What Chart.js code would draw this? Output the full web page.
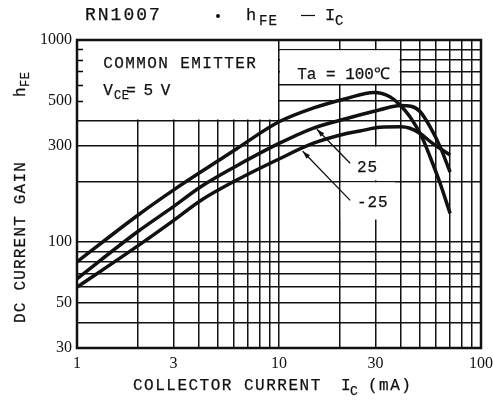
<!DOCTYPE html>
<html>
<head>
<meta charset="utf-8">
<script src="https://cdn.jsdelivr.net/npm/chart.js@4"></script>
<style>
body { margin: 0; background: #fff; }
</style>
</head>
<body>
<canvas id="hfe_chart" width="493" height="405"></canvas>
<script>
// RN1007 hFE - IC
const ic100 = [1, 2, 3, 5, 6.2, 10, 14.7, 21.6, 29.5, 35.4, 39.7, 44.5, 50.9, 56, 62.7, 70.3];
const hfe100 = [80, 136, 181, 253, 291, 394, 460, 514, 550, 524, 477, 417, 332, 264, 196, 139];

const ic25 = [1, 2, 3, 4.1, 6, 10, 14.7, 21.6, 31.6, 40, 45, 50, 56, 62.7, 70.3];
const hfe25 = [66, 113, 150, 188, 235, 308, 366, 409, 452, 474, 470, 442, 372, 297, 222];

const icM25 = [1, 2, 3, 4.1, 6, 10, 14.7, 21.6, 25.2, 31.6, 40, 44.5, 50, 57.6, 70.3];
const hfeM25 = [60, 96, 128, 161, 200, 258, 308, 345, 355, 370, 372, 366, 345, 308, 270];

const xTicks = [1, 2, 3, 4, 5, 6, 7, 8, 9, 10, 20, 30, 40, 50, 60, 70, 80, 90, 100];
const xLabels = [1, 3, 10, 30, 100];
const yTicks = [30, 40, 50, 60, 70, 80, 90, 100, 200, 300, 400, 500, 600, 700, 800, 900, 1000];
const yLabels = [30, 50, 100, 300, 500, 1000];

const mono = '"Liberation Mono", monospace';
const serif = '"Liberation Serif", serif';

function points(xs, ys) {
    return xs.map((x, i) => ({x: x, y: ys[i]}));
}

function write(ctx, s, x, y, size, spacing) {
    ctx.font = size + 'px ' + mono;
    ctx.letterSpacing = spacing + 'px';
    ctx.lineWidth = 0.25;
    ctx.fillText(s, x, y);
    ctx.strokeText(s, x, y);
    let w = ctx.measureText(s).width;
    ctx.letterSpacing = '0px';
    return x + w;
}

function arrow(ctx, x0, y0, x1, y1) {
    // line from label (x0,y0) to curve (x1,y1), filled head at the curve
    let a = Math.atan2(y1 - y0, x1 - x0);
    ctx.lineWidth = 1.3;
    ctx.beginPath();
    ctx.moveTo(x0, y0);
    ctx.lineTo(x1, y1);
    ctx.stroke();
    ctx.beginPath();
    ctx.moveTo(x1, y1);
    ctx.lineTo(x1 - 8 * Math.cos(a) + 2.5 * Math.sin(a), y1 - 8 * Math.sin(a) - 2.5 * Math.cos(a));
    ctx.lineTo(x1 - 8 * Math.cos(a) - 2.5 * Math.sin(a), y1 - 8 * Math.sin(a) + 2.5 * Math.cos(a));
    ctx.closePath();
    ctx.fill();
}

const sheetPlugin = {
    id: 'sheet',
    beforeDatasetsDraw(chart) {
        let ctx = chart.ctx;
        let px = v => chart.scales.x.getPixelForValue(v);
        let py = v => chart.scales.y.getPixelForValue(v);
        ctx.save();
        // white areas behind the notes
        ctx.fillStyle = '#fff';
        let blanks = [[1, 10, 400, 1000], [10, 40, 600, 900], [20, 40, 200, 300], [20, 38, 128, 200]];
        blanks.forEach(b => {
            ctx.fillRect(px(b[0]) + 1, py(b[3]) + 1, px(b[1]) - px(b[0]) - 2, py(b[2]) - py(b[3]) - 2);
        });
        // short ticks on the left edge inside the box
        ctx.strokeStyle = '#000';
        ctx.lineWidth = 1.5;
        [500, 600, 700, 800, 900].forEach(v => {
            ctx.beginPath();
            ctx.moveTo(px(1), Math.round(py(v)) + 0.5);
            ctx.lineTo(px(1) + 6, Math.round(py(v)) + 0.5);
            ctx.stroke();
        });
        ctx.restore();
    },
    afterDraw(chart) {
        let ctx = chart.ctx;
        let a = chart.chartArea;
        let px = v => chart.scales.x.getPixelForValue(v);
        let py = v => chart.scales.y.getPixelForValue(v);
        ctx.save();
        ctx.fillStyle = '#111';
        ctx.strokeStyle = '#111';
        ctx.textBaseline = 'alphabetic';

        // frame
        ctx.lineWidth = 2.5;
        ctx.strokeRect(a.left, a.top, a.right - a.left, a.bottom - a.top);

        // notes inside the plot
        write(ctx, 'COMMON EMITTER', px(1.35), py(726), 16, 1.4);
        let x = write(ctx, 'V', px(1.35), py(534), 16, 0);
        x = write(ctx, 'CE', x + 1, py(534) + 4, 12, 0.5);
        write(ctx, '= 5 V', x - 3, py(534), 16, -1);
        write(ctx, 'Ta = 100℃', px(12.3), py(641), 16, 0);
        write(ctx, '25', px(24.3), py(222), 16, 1);
        write(ctx, '-25', px(24.3), py(149), 16, 1);
        arrow(ctx, px(22.5), py(246), px(15.4), py(362));
        arrow(ctx, px(22.5), py(161), px(13.1), py(282));

        // title
        write(ctx, 'RN1007', 85, 20, 18, 2);
        ctx.beginPath();
        ctx.arc(218, 16, 2, 0, Math.PI * 2);
        ctx.fill();
        write(ctx, 'h', 246, 20, 17, 0);
        write(ctx, 'FE', 259, 25, 14, 1);
        ctx.lineWidth = 1.2;
        ctx.beginPath();
        ctx.moveTo(301, 15.5);
        ctx.lineTo(315, 15.5);
        ctx.stroke();
        write(ctx, 'I', 325, 20, 17, 0);
        write(ctx, 'C', 335, 25, 14, 0);

        // x axis title
        write(ctx, 'COLLECTOR CURRENT', 133, 390, 16, 1.5);
        write(ctx, 'I', 341, 390, 16, 0);
        write(ctx, 'C', 350, 395, 13, 0);
        write(ctx, '(mA)', 368, 390, 16, 1.5);

        // y axis title, rotated
        ctx.translate(25, 323);
        ctx.rotate(-Math.PI / 2);
        write(ctx, 'DC CURRENT GAIN', 0, 0, 16, 1.2);
        write(ctx, 'h', 226, 0, 16, 0);
        write(ctx, 'FE', 236, 4, 12, 0.5);
        ctx.restore();
    }
};

let ctx = document.getElementById('hfe_chart').getContext('2d');

let curveStyle = {
    borderColor: '#111',
    borderWidth: 3.5,
    pointRadius: 0,
    fill: false,
    cubicInterpolationMode: 'monotone'
};

let data1 = {
    type: 'line',
    data: {
        datasets: [
            Object.assign({label: 'Ta = 100', data: points(ic100, hfe100)}, curveStyle),
            Object.assign({label: 'Ta = 25', data: points(ic25, hfe25)}, curveStyle),
            Object.assign({label: 'Ta = -25', data: points(icM25, hfeM25)}, curveStyle)
        ]
    },
    options: {
        responsive: false,
        animation: false,
        devicePixelRatio: 1,
        layout: {padding: {top: 40, right: 12, left: 0, bottom: 0}},
        plugins: {legend: {display: false}, tooltip: {enabled: false}},
        scales: {
            x: {
                type: 'logarithmic',
                min: 1,
                max: 100,
                afterBuildTicks: s => { s.ticks = xTicks.map(v => ({value: v})); },
                afterFit: s => { s.height = 57; s.paddingLeft = 0; s.paddingRight = 0; },
                grid: {color: '#111', lineWidth: 1.5, drawTicks: false},
                border: {display: false},
                ticks: {
                    autoSkip: false,
                    maxRotation: 0,
                    padding: 6,
                    color: '#111',
                    font: {family: serif, size: 16},
                    callback: v => xLabels.includes(v) ? String(v) : ''
                }
            },
            y: {
                type: 'logarithmic',
                min: 30,
                max: 1000,
                afterBuildTicks: s => { s.ticks = yTicks.map(v => ({value: v})); },
                afterFit: s => { s.width = 77; s.paddingTop = 0; s.paddingBottom = 0; },
                grid: {color: '#111', lineWidth: 1.5, drawTicks: false},
                border: {display: false},
                ticks: {
                    autoSkip: false,
                    padding: 5,
                    color: '#111',
                    font: {family: serif, size: 16},
                    callback: v => yLabels.includes(v) ? String(v) : ''
                }
            }
        }
    },
    plugins: [sheetPlugin]
};

let chart = new Chart(ctx, data1);
</script>
</body>
</html>
